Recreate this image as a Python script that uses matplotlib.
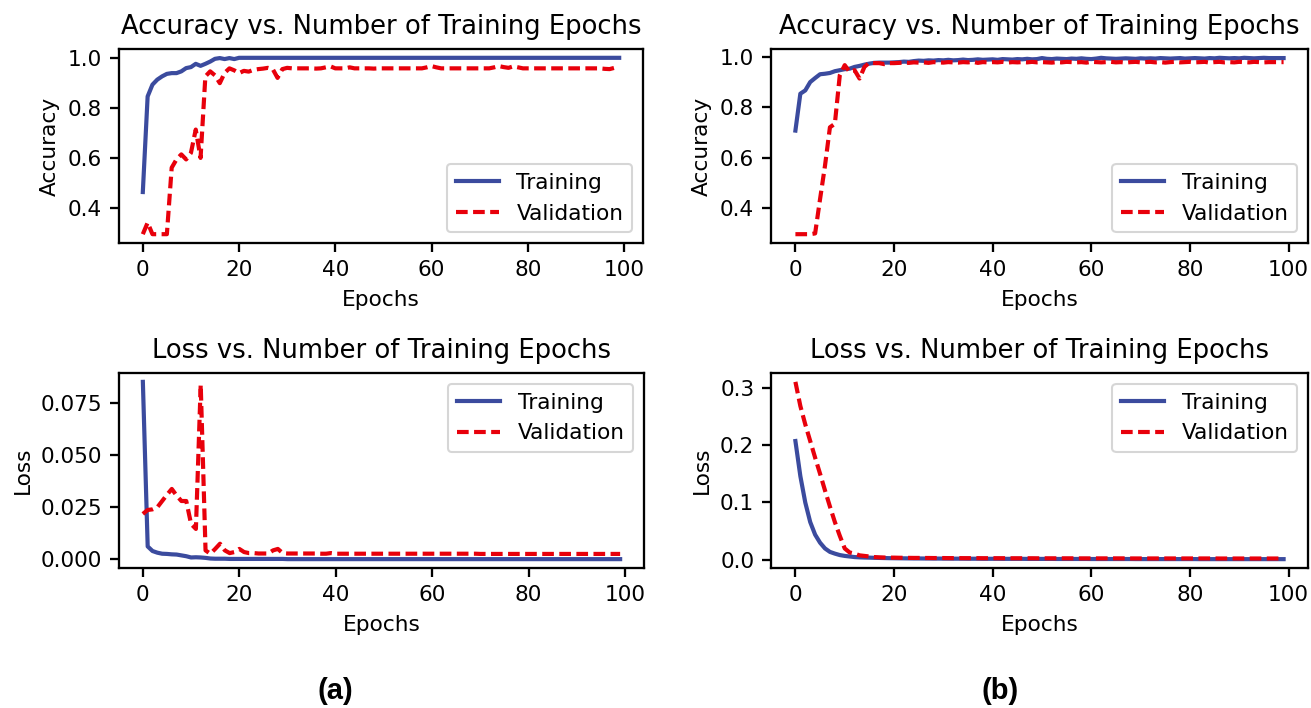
import numpy as np
import matplotlib
matplotlib.use("Agg")
import matplotlib.pyplot as plt

epochs = np.arange(100)

# (a) accuracy
acc_train_a = [0.465, 0.846, 0.893, 0.913, 0.926, 0.936, 0.939, 0.939, 0.946, 0.959,
               0.963, 0.976, 0.968, 0.976, 0.985, 0.996, 0.999, 0.995, 0.999, 0.995,
               1.0, 1.0, 1.0, 1.0, 1.0, 1.0, 1.0, 1.0, 1.0, 1.0,
               1.0, 1.0, 1.0, 1.0, 1.0, 1.0, 1.0, 1.0, 1.0, 1.0,
               1.0, 1.0, 1.0, 1.0, 1.0, 1.0, 1.0, 1.0, 1.0, 1.0,
               1.0, 1.0, 1.0, 1.0, 1.0, 1.0, 1.0, 1.0, 1.0, 1.0,
               1.0, 1.0, 1.0, 1.0, 1.0, 1.0, 1.0, 1.0, 1.0, 1.0,
               1.0, 1.0, 1.0, 1.0, 1.0, 1.0, 1.0, 1.0, 1.0, 1.0,
               1.0, 1.0, 1.0, 1.0, 1.0, 1.0, 1.0, 1.0, 1.0, 1.0,
               1.0, 1.0, 1.0, 1.0, 1.0, 1.0, 1.0, 1.0, 1.0, 1.0]
acc_val_a = [0.297, 0.343, 0.297, 0.297, 0.297, 0.297, 0.562, 0.595, 0.615, 0.595,
             0.621, 0.714, 0.601, 0.926, 0.946, 0.930, 0.899, 0.940, 0.958, 0.950,
             0.939, 0.948, 0.945, 0.952, 0.955, 0.957, 0.960, 0.955, 0.920, 0.955,
             0.960, 0.958, 0.958, 0.958, 0.958, 0.958, 0.957, 0.958, 0.962, 0.966,
             0.958, 0.958, 0.958, 0.962, 0.958, 0.958, 0.958, 0.958, 0.957, 0.958,
             0.958, 0.958, 0.958, 0.958, 0.958, 0.958, 0.958, 0.958, 0.958, 0.962,
             0.967, 0.962, 0.958, 0.958, 0.958, 0.958, 0.958, 0.958, 0.958, 0.958,
             0.958, 0.958, 0.958, 0.962, 0.967, 0.963, 0.960, 0.966, 0.962, 0.958,
             0.958, 0.958, 0.958, 0.958, 0.958, 0.958, 0.958, 0.958, 0.958, 0.958,
             0.958, 0.958, 0.958, 0.958, 0.958, 0.958, 0.956, 0.955, 0.960, 0.955]

# (a) loss
loss_train_a = [0.0852, 0.0062, 0.0040, 0.0032, 0.0027, 0.0026, 0.0024, 0.0023, 0.0019, 0.0015,
                0.0009, 0.0010, 0.0009, 0.0007, 0.0004, 0.0003, 0.0003, 0.0003, 0.0002, 0.0002,
                0.0002, 0.0002, 0.0002, 0.0002, 0.0002, 0.0002, 0.0002, 0.0002, 0.0002, 0.0002,
                0.0001, 0.0001, 0.0001, 0.0001, 0.0001, 0.0001, 0.0001, 0.0001, 0.0001, 0.0001,
                0.0001, 0.0001, 0.0001, 0.0001, 0.0001, 0.0001, 0.0001, 0.0001, 0.0001, 0.0001,
                0.0001, 0.0001, 0.0001, 0.0001, 0.0001, 0.0001, 0.0001, 0.0001, 0.0001, 0.0001,
                0.0001, 0.0001, 0.0001, 0.0001, 0.0001, 0.0001, 0.0001, 0.0001, 0.0001, 0.0001,
                0.0001, 0.0001, 0.0001, 0.0001, 0.0001, 0.0001, 0.0001, 0.0001, 0.0001, 0.0001,
                0.0001, 0.0001, 0.0001, 0.0001, 0.0001, 0.0001, 0.0001, 0.0001, 0.0001, 0.0001,
                0.0001, 0.0001, 0.0001, 0.0001, 0.0001, 0.0001, 0.0001, 0.0001, 0.0001, 0.0001]
loss_val_a = [0.0218, 0.0237, 0.0240, 0.0250, 0.0280, 0.0310, 0.0338, 0.0306, 0.0280, 0.0280,
              0.0170, 0.0146, 0.0839, 0.0043, 0.0027, 0.0050, 0.0075, 0.0043, 0.0030, 0.0035,
              0.0050, 0.0035, 0.0030, 0.0030, 0.0028, 0.0028, 0.0028, 0.0043, 0.0050, 0.0030,
              0.0028, 0.0028, 0.0028, 0.0028, 0.0028, 0.0028, 0.0028, 0.0027, 0.0027, 0.0030,
              0.0027, 0.0027, 0.0027, 0.0027, 0.0027, 0.0027, 0.0027, 0.0027, 0.0027, 0.0027,
              0.0027, 0.0027, 0.0027, 0.0027, 0.0027, 0.0027, 0.0027, 0.0027, 0.0027, 0.0027,
              0.0027, 0.0027, 0.0027, 0.0027, 0.0027, 0.0027, 0.0027, 0.0027, 0.0027, 0.0027,
              0.0026, 0.0026, 0.0026, 0.0026, 0.0026, 0.0026, 0.0026, 0.0026, 0.0026, 0.0026,
              0.0026, 0.0026, 0.0026, 0.0026, 0.0026, 0.0026, 0.0026, 0.0026, 0.0026, 0.0026,
              0.0026, 0.0026, 0.0026, 0.0026, 0.0026, 0.0026, 0.0026, 0.0026, 0.0026, 0.0026]

# (b) accuracy
acc_train_b = [0.707, 0.853, 0.866, 0.899, 0.915, 0.930, 0.932, 0.935, 0.942, 0.946,
               0.950, 0.952, 0.959, 0.963, 0.968, 0.972, 0.975, 0.976, 0.976, 0.976,
               0.977, 0.978, 0.980, 0.979, 0.982, 0.984, 0.983, 0.985, 0.984, 0.986,
               0.985, 0.987, 0.985, 0.986, 0.988, 0.986, 0.987, 0.989, 0.987, 0.988,
               0.989, 0.987, 0.990, 0.989, 0.988, 0.990, 0.989, 0.991, 0.989, 0.990,
               0.994, 0.991, 0.990, 0.992, 0.991, 0.990, 0.992, 0.991, 0.993, 0.991,
               0.990, 0.992, 0.995, 0.993, 0.992, 0.991, 0.992, 0.993, 0.992, 0.991,
               0.993, 0.992, 0.993, 0.992, 0.994, 0.993, 0.992, 0.993, 0.994, 0.992,
               0.993, 0.994, 0.993, 0.992, 0.994, 0.993, 0.995, 0.994, 0.993, 0.994,
               0.993, 0.995, 0.994, 0.993, 0.994, 0.995, 0.994, 0.994, 0.994, 0.994]
acc_val_b = [0.297, 0.297, 0.297, 0.297, 0.300, 0.436, 0.568, 0.720, 0.734, 0.926,
             0.966, 0.939, 0.946, 0.913, 0.959, 0.976, 0.974, 0.974, 0.970, 0.974,
             0.974, 0.975, 0.976, 0.975, 0.977, 0.976, 0.977, 0.975, 0.978, 0.977,
             0.976, 0.978, 0.977, 0.976, 0.978, 0.977, 0.979, 0.975, 0.978, 0.977,
             0.978, 0.977, 0.979, 0.976, 0.978, 0.977, 0.978, 0.977, 0.979, 0.977,
             0.978, 0.977, 0.976, 0.978, 0.977, 0.979, 0.978, 0.977, 0.978, 0.976,
             0.979, 0.978, 0.977, 0.978, 0.979, 0.977, 0.978, 0.976, 0.978, 0.979,
             0.977, 0.978, 0.979, 0.977, 0.978, 0.976, 0.978, 0.979, 0.977, 0.978,
             0.979, 0.977, 0.978, 0.979, 0.976, 0.978, 0.979, 0.977, 0.978, 0.977,
             0.979, 0.978, 0.977, 0.979, 0.978, 0.977, 0.978, 0.978, 0.978, 0.978]

# (b) loss
loss_train_b = [0.207, 0.146, 0.100, 0.066, 0.044, 0.030, 0.020, 0.014, 0.011, 0.0085,
                0.0070, 0.0060, 0.0050, 0.0045, 0.0042, 0.0040, 0.0037, 0.0035, 0.0033, 0.0031,
                0.0030, 0.0029, 0.0028, 0.0027, 0.0026, 0.0026, 0.0025, 0.0025, 0.0024, 0.0024,
                0.0023, 0.0023, 0.0022, 0.0022, 0.0022, 0.0021, 0.0021, 0.0021, 0.0020, 0.0020,
                0.0020, 0.0020, 0.0019, 0.0019, 0.0019, 0.0019, 0.0019, 0.0018, 0.0018, 0.0018,
                0.0018, 0.0018, 0.0018, 0.0017, 0.0017, 0.0017, 0.0017, 0.0017, 0.0017, 0.0017,
                0.0016, 0.0016, 0.0016, 0.0016, 0.0016, 0.0016, 0.0016, 0.0016, 0.0016, 0.0015,
                0.0015, 0.0015, 0.0015, 0.0015, 0.0015, 0.0015, 0.0015, 0.0015, 0.0015, 0.0015,
                0.0015, 0.0015, 0.0014, 0.0014, 0.0014, 0.0014, 0.0014, 0.0014, 0.0014, 0.0014,
                0.0014, 0.0014, 0.0014, 0.0014, 0.0014, 0.0014, 0.0014, 0.0014, 0.0014, 0.0014]
loss_val_b = [0.310, 0.268, 0.236, 0.207, 0.178, 0.150, 0.121, 0.093, 0.066, 0.042,
              0.020, 0.013, 0.011, 0.008, 0.007, 0.006, 0.005, 0.0045, 0.0042, 0.0040,
              0.0040, 0.0038, 0.0037, 0.0036, 0.0035, 0.0035, 0.0034, 0.0034, 0.0033, 0.0033,
              0.0033, 0.0032, 0.0032, 0.0032, 0.0031, 0.0031, 0.0031, 0.0031, 0.0030, 0.0030,
              0.0030, 0.0030, 0.0030, 0.0029, 0.0029, 0.0029, 0.0029, 0.0029, 0.0029, 0.0028,
              0.0028, 0.0028, 0.0028, 0.0028, 0.0028, 0.0028, 0.0028, 0.0027, 0.0027, 0.0027,
              0.0027, 0.0027, 0.0027, 0.0027, 0.0027, 0.0027, 0.0027, 0.0027, 0.0026, 0.0026,
              0.0026, 0.0026, 0.0026, 0.0026, 0.0026, 0.0026, 0.0026, 0.0026, 0.0026, 0.0026,
              0.0026, 0.0026, 0.0026, 0.0026, 0.0026, 0.0026, 0.0025, 0.0025, 0.0025, 0.0025,
              0.0025, 0.0025, 0.0025, 0.0025, 0.0025, 0.0025, 0.0025, 0.0025, 0.0025, 0.0025]

blue = "#3b4b9e"
red = "#e8000b"

plt.rcParams["font.size"] = 10.4
plt.rcParams["axes.titlesize"] = 12.4
plt.rcParams["axes.linewidth"] = 1.1
plt.rcParams["xtick.major.width"] = 1.1
plt.rcParams["ytick.major.width"] = 1.1
plt.rcParams["xtick.major.size"] = 4.5
plt.rcParams["ytick.major.size"] = 4.5

W, H = 1311, 708
fig = plt.figure(figsize=(W / 150, H / 150), dpi=150)


def box(x0, y0, x1, y1):
    # pixel box -> figure fraction
    return [x0 / W, 1 - y1 / H, (x1 - x0) / W, (y1 - y0) / H]


ax1 = fig.add_axes(box(119, 49, 643, 243))
ax2 = fig.add_axes(box(771, 49, 1308, 243))
ax3 = fig.add_axes(box(119, 373, 644, 568))
ax4 = fig.add_axes(box(771, 373, 1308, 568))

panels = [
    (ax1, acc_train_a, acc_val_a, "Accuracy", "lower right"),
    (ax2, acc_train_b, acc_val_b, "Accuracy", "lower right"),
    (ax3, loss_train_a, loss_val_a, "Loss", "upper right"),
    (ax4, loss_train_b, loss_val_b, "Loss", "upper right"),
]

for ax, tr, va, name, loc in panels:
    ax.plot(epochs, tr, color=blue, lw=2.0, label="Training")
    ax.plot(epochs, va, color=red, lw=2.0, ls=(0, (2.8, 1.3)), label="Validation")
    ax.set_title(name + " vs. Number of Training Epochs", pad=7)
    ax.set_xlabel("Epochs", labelpad=5)
    ax.set_ylabel(name)
    ax.set_xticks([0, 20, 40, 60, 80, 100])
    ax.legend(loc=loc)

ax4.set_yticks([0.0, 0.1, 0.2, 0.3])

fig.text(335 / W, 1 - 691 / H, "(a)", ha="center", va="center",
         fontsize=14, fontweight="bold", family="Liberation Sans")
fig.text(1000 / W, 1 - 691 / H, "(b)", ha="center", va="center",
         fontsize=14, fontweight="bold", family="Liberation Sans")

fig.savefig("out.png", dpi=150)
